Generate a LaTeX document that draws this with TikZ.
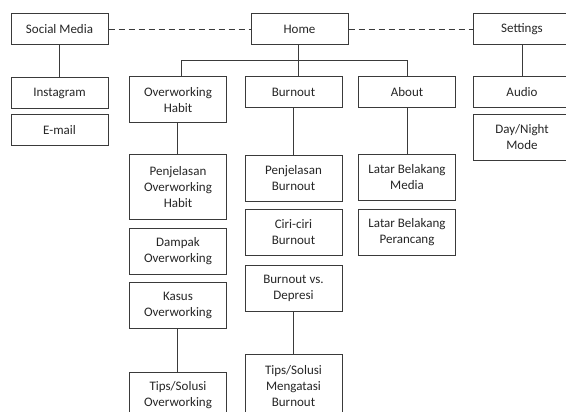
\documentclass[tikz,border=0pt]{standalone}
\usepackage{fontspec}
\setmainfont{Carlito}
\definecolor{linec}{HTML}{3A3A3A}
\definecolor{textc}{HTML}{262626}
\begin{document}
\begin{tikzpicture}[x=1pt,y=-1pt,
  box/.style={draw=linec,line width=1pt,minimum width=97pt,inner sep=0pt,align=center,
    text=textc,font=\fontsize{13}{16}\selectfont,anchor=center},
  h1/.style={box,minimum height=31pt},
  h2/.style={box,minimum height=46pt},
  h3/.style={box,minimum height=64pt},
  conn/.style={draw=linec,line width=1pt},
  dashlink/.style={draw=linec,line width=1pt,dash pattern=on 6pt off 4pt}]
\useasboundingbox (0,0) rectangle (566,412);
\clip (0,0) rectangle (566,412);
\fill[white] (0,0) rectangle (566,412);
% top row
\node[h1] (sm) at (59.5,29.5) {Social Media};
\node[h1] (home) at (299.5,29.5) {Home};
\node[h1] (set) at (522,29.5) {Settings};
% social media column
\node[h1] (ig) at (59.5,93) {Instagram};
\node[h1] (em) at (59.5,130.5) {E-mail};
% overworking column
\node[h2] (oh) at (178,100) {Overworking\\Habit};
\node[h3] (poh) at (178,187) {Penjelasan\\Overworking\\Habit};
\node[h2] (dam) at (178,251) {Dampak\\Overworking};
\node[h2] (kas) at (178,305) {Kasus\\Overworking};
\node[h2] (tso) at (178,395) {Tips/Solusi\\Overworking};
% burnout column
\node[h1] (bo) at (293.5,92.5) {Burnout};
\node[h2] (pb) at (293.5,178.5) {Penjelasan\\Burnout};
\node[h2] (cc) at (293.5,232.5) {Ciri-ciri\\Burnout};
\node[h2] (bvd) at (293.5,288) {Burnout vs.\\Depresi};
\node[h3] (tmb) at (293.5,386) {Tips/Solusi\\Mengatasi\\Burnout};
% about column
\node[h1] (ab) at (407,92.5) {About};
\node[h2] (lbm) at (407,177.5) {Latar Belakang\\Media};
\node[h2] (lbp) at (407,232.5) {Latar Belakang\\Perancang};
% settings column
\node[h1] (au) at (522,92.5) {Audio};
\node[h2] (dn) at (522,137.5) {Day/Night\\Mode};
% dashed links
\draw[dashlink] (sm.east) -- (home.west);
\draw[dashlink] (home.east) -- (set.west);
% tree connectors
\coordinate (bar) at (0,61);
\draw[conn] ([xshift=3pt]oh.north) |- (bar -| ab.north) -- (ab.north);
\draw[conn] ([xshift=-1.5pt]home.south) -- ([xshift=-1.5pt]home.south |- bo.north);
\draw[conn] (sm.south) -- (ig.north);
\draw[conn] ([xshift=-1pt]oh.south) -- ([xshift=-1pt]poh.north);
\draw[conn] ([xshift=-1pt]kas.south) -- ([xshift=-1pt]tso.north);
\draw[conn] ([xshift=-0.5pt]bo.south) -- ([xshift=-0.5pt]pb.north);
\draw[conn] ([xshift=-0.5pt]bvd.south) -- ([xshift=-0.5pt]tmb.north);
\draw[conn] (ab.south) -- (lbm.north);
\draw[conn] (set.south) -- (au.north);
\end{tikzpicture}
\end{document}
